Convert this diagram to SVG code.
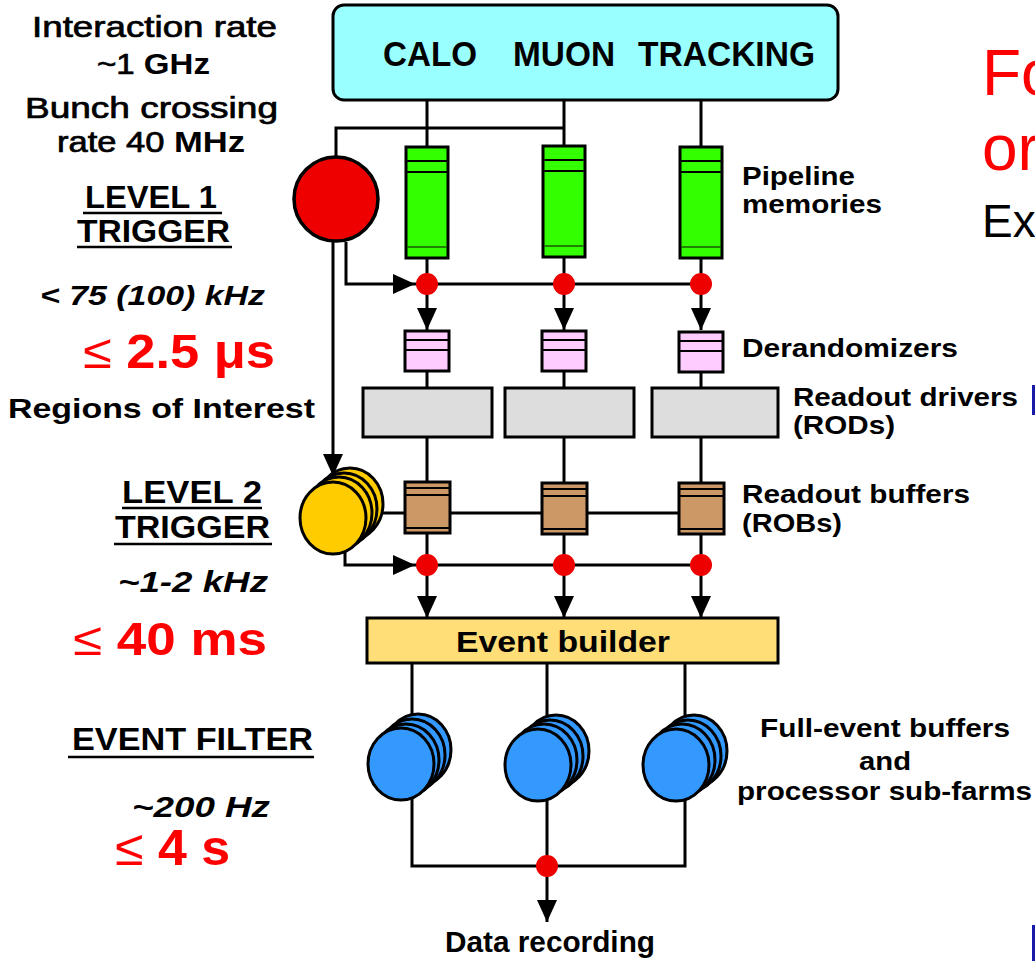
<svg xmlns="http://www.w3.org/2000/svg" width="1035" height="961" viewBox="0 0 1035 961">
<style>
text{font-family:"Liberation Sans",Arial,Helvetica,sans-serif;fill:#000}
.b{font-weight:bold}
.m{font-weight:normal;stroke:#000;stroke-width:0.7}
.it{font-style:italic;font-weight:bold}
.red{fill:#ff0000;font-weight:bold}
.lbl{font-size:26px;font-weight:bold}
.ln{stroke:#000;stroke-width:3;fill:none}
.ul{stroke:#000;stroke-width:2.5}
.box{stroke:#000;stroke-width:3}
.dot{fill:#ee0000}
.pipe{fill:#33ff00}
.der{fill:#ffccff}
.rod{fill:#dddddd}
.rob{fill:#cc9966}
.yel{fill:#ffcc00;stroke:#000;stroke-width:3}
.blu{fill:#3399ff;stroke:#000;stroke-width:3}
.inner{stroke:#000;stroke-width:2}
.thin{stroke:#1a5a00;stroke-width:1.5}
</style>
<defs>
<marker id="ah" markerUnits="userSpaceOnUse" markerWidth="22" markerHeight="20" refX="22" refY="10" orient="auto" viewBox="0 0 22 20"><path d="M0,0 L22,10 L0,20 z" fill="#000"/></marker>
</defs>

<g id="connectors">
<path class="ln" d="M427,100 V147 M564,100 V146 M701,100 V147"/>
<path class="ln" d="M336,156 V128 H564"/>
<path class="ln" d="M333,242 V476" marker-end="url(#ah)"/>
<path class="ln" d="M346,242 V284 H415" marker-end="url(#ah)"/>
<path class="ln" d="M415,284 H701"/>
<path class="ln" d="M427,258 V284 M564,258 V284 M701,258 V284"/>
<path class="ln" d="M427,284 V330" marker-end="url(#ah)"/>
<path class="ln" d="M564,284 V330" marker-end="url(#ah)"/>
<path class="ln" d="M701,284 V330" marker-end="url(#ah)"/>
<path class="ln" d="M427,371 V388 M564,371 V388 M701,371 V388"/>
<path class="ln" d="M427,437 V482 M564,437 V482 M701,437 V482"/>
<path class="ln" d="M375,513 H701"/>
<path class="ln" d="M427,533 V565 M564,533 V565 M701,533 V565"/>
<path class="ln" d="M345,548 V565 H415" marker-end="url(#ah)"/>
<path class="ln" d="M415,565 H701"/>
<path class="ln" d="M427,565 V618" marker-end="url(#ah)"/>
<path class="ln" d="M564,565 V618" marker-end="url(#ah)"/>
<path class="ln" d="M701,565 V618" marker-end="url(#ah)"/>
<path class="ln" d="M412,663 V730 M547,663 V730 M685,663 V730"/>
<path class="ln" d="M412,790 V866 H685 V790 M547,790 V866"/>
<path class="ln" d="M547,866 V922" marker-end="url(#ah)"/>
<circle class="dot" cx="427" cy="284" r="11"/>
<circle class="dot" cx="564" cy="284" r="11"/>
<circle class="dot" cx="701" cy="284" r="11"/>
<circle class="dot" cx="427" cy="565" r="11"/>
<circle class="dot" cx="564" cy="565" r="11"/>
<circle class="dot" cx="701" cy="565" r="11"/>
<circle class="dot" cx="547" cy="866" r="11"/>
</g>

<g id="detectors">
<rect x="333" y="5" width="505" height="95" rx="11" fill="#99ffff" stroke="#000" stroke-width="3"/>
<text class="b" x="383" y="66" font-size="35" textLength="94" lengthAdjust="spacingAndGlyphs">CALO</text>
<text class="b" x="513" y="66" font-size="35" textLength="102" lengthAdjust="spacingAndGlyphs">MUON</text>
<text class="b" x="638" y="66" font-size="35" textLength="177" lengthAdjust="spacingAndGlyphs">TRACKING</text>
</g>

<g id="level1">
<circle cx="336" cy="199" r="42" fill="#ee0000" stroke="#000" stroke-width="3.5"/>
</g>

<g id="pipelines">
<rect class="pipe box" x="406" y="147" width="42" height="111"/>
<path class="inner" d="M406,161 H448 M406,172 H448"/>
<path class="thin" d="M407,247 H447"/>
<rect class="pipe box" x="543" y="146" width="42" height="111"/>
<path class="inner" d="M543,160 H585 M543,171 H585"/>
<path class="thin" d="M544,246 H584"/>
<rect class="pipe box" x="680" y="147" width="42" height="111"/>
<path class="inner" d="M680,161 H722 M680,172 H722"/>
<path class="thin" d="M681,247 H721"/>
</g>

<g id="derandomizers">
<rect class="der box" x="405" y="331" width="44" height="40"/>
<path class="inner" d="M405,340 H449 M405,350 H449"/>
<rect class="der box" x="542" y="331" width="44" height="40"/>
<path class="inner" d="M542,340 H586 M542,350 H586"/>
<rect class="der box" x="679" y="332" width="44" height="40"/>
<path class="inner" d="M679,341 H723 M679,351 H723"/>
</g>

<g id="rods">
<rect class="rod box" x="363" y="388" width="129" height="49"/>
<rect class="rod box" x="505" y="388" width="129" height="49"/>
<rect class="rod box" x="652" y="388" width="126" height="49"/>
</g>

<g id="level2">
<ellipse class="yel" cx="350" cy="504" rx="33" ry="36"/>
<ellipse class="yel" cx="344" cy="509" rx="33" ry="36"/>
<ellipse class="yel" cx="339" cy="513" rx="33" ry="36"/>
<ellipse class="yel" cx="333" cy="518" rx="33" ry="36"/>
</g>

<g id="robs">
<rect class="rob box" x="405" y="482" width="45" height="51"/>
<path class="inner" d="M405,488 H450 M405,495 H450 M405,528 H450"/>
<rect class="rob box" x="542" y="483" width="45" height="51"/>
<path class="inner" d="M542,489 H587 M542,496 H587 M542,529 H587"/>
<rect class="rob box" x="679" y="483" width="45" height="51"/>
<path class="inner" d="M679,489 H724 M679,496 H724 M679,529 H724"/>
</g>

<g id="event-builder">
<rect x="367" y="618" width="411" height="45" fill="#ffdd77" stroke="#000" stroke-width="3"/>
<text class="b" x="456" y="652" font-size="30" textLength="214" lengthAdjust="spacingAndGlyphs">Event builder</text>
</g>

<g id="farms">
<ellipse class="blu" cx="418" cy="750" rx="33" ry="36"/>
<ellipse class="blu" cx="412" cy="755" rx="33" ry="36"/>
<ellipse class="blu" cx="406" cy="760" rx="33" ry="36"/>
<ellipse class="blu" cx="401" cy="764" rx="33" ry="36"/>
<ellipse class="blu" cx="556" cy="751" rx="33" ry="36"/>
<ellipse class="blu" cx="550" cy="756" rx="33" ry="36"/>
<ellipse class="blu" cx="544" cy="760" rx="33" ry="36"/>
<ellipse class="blu" cx="538" cy="765" rx="33" ry="36"/>
<ellipse class="blu" cx="694" cy="751" rx="33" ry="36"/>
<ellipse class="blu" cx="688" cy="756" rx="33" ry="36"/>
<ellipse class="blu" cx="682" cy="760" rx="33" ry="36"/>
<ellipse class="blu" cx="676" cy="765" rx="33" ry="36"/>
</g>

<g id="left-labels">
<text class="m" x="32" y="37" font-size="29" textLength="245" lengthAdjust="spacingAndGlyphs">Interaction rate</text>
<text x="97" y="74" font-size="29" textLength="113" lengthAdjust="spacingAndGlyphs"><tspan class="m">~1 </tspan><tspan class="b">GHz</tspan></text>
<text class="m" x="25" y="118" font-size="29" textLength="253" lengthAdjust="spacingAndGlyphs">Bunch crossing</text>
<text x="57" y="152" font-size="29" textLength="188" lengthAdjust="spacingAndGlyphs"><tspan class="m">rate 40 </tspan><tspan class="b">MHz</tspan></text>
<text class="b" x="85" y="208" font-size="31" textLength="132" lengthAdjust="spacingAndGlyphs">LEVEL 1</text>
<line class="ul" x1="83" y1="213" x2="222" y2="213"/>
<text class="b" x="77" y="242" font-size="31" textLength="153" lengthAdjust="spacingAndGlyphs">TRIGGER</text>
<line class="ul" x1="77" y1="247" x2="232" y2="247"/>
<text class="it" x="40" y="305" font-size="27" textLength="225" lengthAdjust="spacingAndGlyphs">&lt; 75 (100) kHz</text>
<text class="red" x="83" y="368" font-size="48" textLength="192" lengthAdjust="spacingAndGlyphs"><tspan font-weight="normal">≤</tspan> 2.5 μs</text>
<text class="b" x="8" y="418" font-size="27" textLength="307" lengthAdjust="spacingAndGlyphs">Regions of Interest</text>
<text class="b" x="122" y="503" font-size="31" textLength="140" lengthAdjust="spacingAndGlyphs">LEVEL 2</text>
<line class="ul" x1="122" y1="508" x2="262" y2="508"/>
<text class="b" x="115" y="538" font-size="31" textLength="155" lengthAdjust="spacingAndGlyphs">TRIGGER</text>
<line class="ul" x1="114" y1="544" x2="272" y2="544"/>
<text class="it" x="118" y="592" font-size="29" textLength="150" lengthAdjust="spacingAndGlyphs">~1-2 kHz</text>
<text class="red" x="73" y="655" font-size="46" textLength="194" lengthAdjust="spacingAndGlyphs"><tspan font-weight="normal">≤</tspan> 40 ms</text>
<text class="b" x="72" y="750" font-size="31" textLength="241" lengthAdjust="spacingAndGlyphs">EVENT FILTER</text>
<line class="ul" x1="68" y1="757" x2="314" y2="757"/>
<text class="it" x="132" y="817" font-size="29" textLength="138" lengthAdjust="spacingAndGlyphs">~200 Hz</text>
<text class="red" x="115" y="865" font-size="50" textLength="115" lengthAdjust="spacingAndGlyphs"><tspan font-weight="normal">≤</tspan> 4 s</text>
</g>

<g id="right-labels">
<text class="lbl" x="742" y="185" textLength="113" lengthAdjust="spacingAndGlyphs">Pipeline</text>
<text class="lbl" x="742" y="213" textLength="140" lengthAdjust="spacingAndGlyphs">memories</text>
<text class="lbl" x="742" y="357" textLength="216" lengthAdjust="spacingAndGlyphs">Derandomizers</text>
<text class="lbl" x="793" y="406" textLength="225" lengthAdjust="spacingAndGlyphs">Readout drivers</text>
<text class="lbl" x="793" y="434" textLength="102" lengthAdjust="spacingAndGlyphs">(RODs)</text>
<text class="lbl" x="742" y="503" textLength="228" lengthAdjust="spacingAndGlyphs">Readout buffers</text>
<text class="lbl" x="742" y="532" textLength="100" lengthAdjust="spacingAndGlyphs">(ROBs)</text>
<text class="lbl" x="760" y="737" textLength="250" lengthAdjust="spacingAndGlyphs">Full-event buffers</text>
<text class="lbl" x="859" y="770" textLength="52" lengthAdjust="spacingAndGlyphs">and</text>
<text class="lbl" x="737" y="800" textLength="295" lengthAdjust="spacingAndGlyphs">processor sub-farms</text>
<text class="b" x="445" y="952" font-size="29" textLength="210" lengthAdjust="spacingAndGlyphs">Data recording</text>
</g>

<g id="slide-text">
<text x="982" y="95" font-size="64" style="fill:#ff0000">Fo</text>
<text x="982" y="170" font-size="64" style="fill:#ff0000">or</text>
<text x="982" y="237" font-size="46">Ex</text>
<rect x="1032" y="385" width="3" height="30" fill="#1a1aaa"/>
<rect x="1032" y="925" width="3" height="36" fill="#1a1aaa"/>
</g>
</svg>
